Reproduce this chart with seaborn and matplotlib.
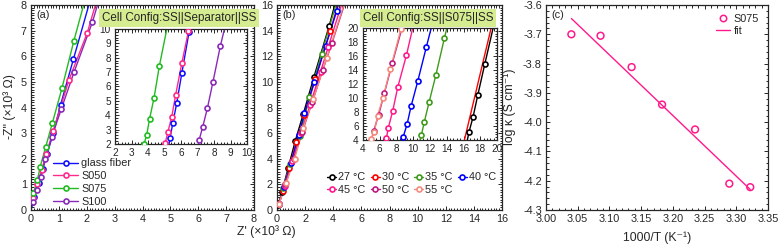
import numpy as np
import matplotlib
matplotlib.use("Agg")
import matplotlib.pyplot as plt
from matplotlib.ticker import MultipleLocator, AutoMinorLocator
from matplotlib.lines import Line2D
import seaborn as sns
import pandas as pd

# ---- panel (a): SS||separator||SS, Z' / -Z'' in 10^3 ohm ----
sep_names = ["glass fiber", "S050", "S075", "S100"]
sep_colors = ["#1010ff", "#ff2a8a", "#22bb22", "#8a2ab8"]
a_x = [[0.12, 0.27, 0.42, 0.58, 0.80, 1.06, 1.52],
       [0.08, 0.22, 0.38, 0.55, 0.80, 1.36, 2.02],
       [0.08, 0.23, 0.33, 0.53, 0.77, 1.11, 1.54],
       [0.06, 0.20, 0.35, 0.52, 0.75, 1.09, 1.55, 2.20]]
a_y = [[0.50, 1.05, 1.60, 2.20, 3.00, 4.10, 5.88],
       [0.45, 1.00, 1.55, 2.20, 3.10, 5.07, 6.92],
       [0.65, 1.17, 1.69, 2.47, 3.41, 4.75, 6.61],
       [0.30, 0.80, 1.30, 2.00, 2.86, 3.95, 5.40, 7.32]]
# inset (a)
ai_x = [[5.34, 5.50, 5.74, 6.05, 6.49],
        [5.04, 5.20, 5.44, 5.68, 6.05, 6.45],
        [3.76, 3.92, 4.10, 4.37, 4.69],
        [7.10, 7.32, 7.60, 7.93, 8.38]]
ai_y = [[2.44, 3.44, 4.84, 6.93, 9.80],
        [2.05, 2.80, 3.90, 5.44, 7.63, 9.84],
        [2.00, 2.63, 3.77, 5.23, 7.44],
        [2.28, 3.21, 4.49, 6.28, 8.79]]

# ---- panel (b): SS||S075||SS at different temperatures ----
temp_names = ["27 °C", "30 °C", "35 °C", "40 °C", "45 °C", "50 °C", "55 °C"]
temp_colors = ["#000000", "#ff0000", "#3f9a1c", "#0000ff", "#ff1a8c", "#c01a80", "#f58a7c"]
b_x = [[0.10, 0.35, 0.80, 1.30, 1.87, 2.63, 3.72],
       [0.12, 0.40, 0.85, 1.38, 1.95, 2.72, 3.80],
       [0.12, 0.45, 0.95, 1.64, 2.30, 3.17],
       [0.15, 0.50, 1.00, 1.55, 1.95, 2.65, 3.45, 4.24],
       [0.15, 0.55, 1.10, 1.70, 2.35, 3.10, 3.65],
       [0.15, 0.60, 1.20, 1.80, 2.50, 3.25, 3.90],
       [0.15, 0.65, 1.25, 1.87, 2.58, 3.53]]
b_y = [[0.40, 1.40, 3.30, 5.40, 7.50, 10.40, 14.40],
       [0.45, 1.50, 3.30, 5.30, 7.40, 10.20, 14.00],
       [0.50, 1.70, 3.60, 5.80, 8.80, 12.20],
       [0.50, 1.80, 3.70, 5.85, 7.54, 10.00, 12.80, 15.50],
       [0.50, 1.90, 3.80, 6.00, 8.20, 10.80, 12.75],
       [0.50, 2.00, 4.00, 6.10, 8.40, 10.90, 13.00],
       [0.50, 2.10, 4.00, 6.43, 8.66, 11.84]]
# inset (b)
bi_x = [[16.67, 17.15, 17.71, 18.54],
        [16.11, 19.30],
        [10.97, 11.33, 11.89, 12.69, 13.72],
        [8.78, 9.26, 9.74, 10.53, 11.57],
        [6.79, 7.03, 7.55, 8.14, 9.18],
        [5.27, 5.87, 6.55, 7.50],
        [5.00, 5.35, 5.75, 6.39, 7.27, 8.54]]
bi_y = [[5.19, 7.34, 10.45, 14.84],
        [4.00, 20.00],
        [4.72, 6.63, 9.40, 13.22, 18.56],
        [4.38, 6.24, 8.82, 12.36, 17.32],
        [4.24, 5.77, 8.15, 11.50, 16.08],
        [5.29, 7.58, 10.69, 14.98],
        [4.20, 5.19, 7.49, 10.06, 14.17, 19.90]]
bi_marks = [True, False, True, True, True, True, True]

# ---- panel (c): Arrhenius ----
inv_t = [3.040, 3.086, 3.135, 3.183, 3.235, 3.289, 3.322]
log_k = [-3.700, -3.705, -3.812, -3.940, -4.025, -4.210, -4.222]
c_color = "#ff1a8c"

sns.set_style("ticks")
plt.rcParams['font.family'] = ['Liberation Sans', 'DejaVu Sans']
plt.rcParams['axes.unicode_minus'] = False
plt.rcParams['axes.linewidth'] = 0.9
fs = 7.8


def style_axes(ax, xmaj, ymaj, xmin_n, ymin_n, lsize=fs):
    ax.xaxis.set_major_locator(MultipleLocator(xmaj))
    ax.yaxis.set_major_locator(MultipleLocator(ymaj))
    ax.xaxis.set_minor_locator(AutoMinorLocator(xmin_n))
    ax.yaxis.set_minor_locator(AutoMinorLocator(ymin_n))
    ax.tick_params(which='both', direction='in', top=True, right=True,
                   labelsize=lsize, pad=3, width=0.7)
    ax.tick_params(which='major', length=3)
    ax.tick_params(which='minor', length=1.8)
    ax.set_xlabel("")
    ax.set_ylabel("")


def trace(ax, xs, ys, color, ybot, ytop, marks=True):
    k, b = np.polyfit(ys, xs, 1)
    lx = [k * ybot + b] + list(xs) + [k * ytop + b]
    ly = [ybot] + list(ys) + [ytop]
    df = pd.DataFrame({"x": lx, "y": ly})
    sns.lineplot(data=df, x="x", y="y", ax=ax, color=color, lw=1,
                 sort=False, estimator=None, zorder=2)
    if marks:
        sns.scatterplot(x=xs, y=ys, ax=ax, color="white", edgecolor=color,
                        s=13, linewidth=1.2, zorder=3)


fig = plt.figure(figsize=(7.79, 2.47), dpi=100)
W, H = 779, 247


def box(x0, y0, x1, y1):
    return [x0 / W, 1 - y1 / H, (x1 - x0) / W, (y1 - y0) / H]


ax_a = fig.add_axes(box(31, 5, 254, 210))
ax_b = fig.add_axes(box(277, 5, 502, 210))
ax_c = fig.add_axes(box(546, 5, 768, 210))
in_a = fig.add_axes(box(115, 29, 247, 144))
in_b = fig.add_axes(box(363, 28, 497, 140))

# panel a
for xs, ys, col in zip(a_x, a_y, sep_colors):
    trace(ax_a, xs, ys, col, 0, 9)
ax_a.set_xlim(0, 8)
ax_a.set_ylim(0, 8)
style_axes(ax_a, 1, 1, 10, 10)
for xs, ys, col in zip(ai_x, ai_y, sep_colors):
    trace(in_a, xs, ys, col, 1.5, 10.5)
in_a.set_xlim(2, 10)
in_a.set_ylim(2, 10)
style_axes(in_a, 1, 1, 5, 5, lsize=7.2)
ax_a.text(0.025, 0.975, "(a)", transform=ax_a.transAxes, fontsize=fs,
          va="top", ha="left")
ax_a.legend(handles=[Line2D([], [], color=c, lw=1, marker='o', ms=3.6,
                            mfc='white', mew=1.2) for c in sep_colors],
            labels=sep_names, loc="lower left", bbox_to_anchor=(0.065, -0.02),
            frameon=False, fontsize=fs, handlelength=2.3, handletextpad=0.3,
            labelspacing=0.25, borderpad=0.2)

# panel b
for xs, ys, col in zip(b_x, b_y, temp_colors):
    trace(ax_b, xs, ys, col, 0, 17)
ax_b.set_xlim(0, 16)
ax_b.set_ylim(0, 16)
style_axes(ax_b, 2, 2, 10, 10)
for xs, ys, col, m in zip(bi_x, bi_y, temp_colors, bi_marks):
    trace(in_b, xs, ys, col, 3, 21, marks=m)
in_b.set_xlim(4, 20)
in_b.set_ylim(4, 20)
style_axes(in_b, 2, 2, 5, 5, lsize=7.2)
ax_b.text(0.025, 0.975, "(b)", transform=ax_b.transAxes, fontsize=fs,
          va="top", ha="left")
# legend is filled column by column, so order it to read row by row
order = [0, 4, 1, 5, 2, 6, 3]
ax_b.legend(handles=[Line2D([], [], color=temp_colors[i], lw=1, marker='o', ms=3.6,
                            mfc='white', mew=1.2) for i in order],
            labels=[temp_names[i] for i in order], loc="upper left",
            bbox_to_anchor=(0.19, 0.22), ncol=4, frameon=False, fontsize=fs,
            handlelength=0.8, handletextpad=0.2, columnspacing=0.5,
            labelspacing=0.25, borderpad=0.2)

# panel c
k, b = np.polyfit(inv_t, log_k, 1)
fit_df = pd.DataFrame({"x": [inv_t[0], inv_t[-1]],
                       "y": [k * inv_t[0] + b, k * inv_t[-1] + b]})
sns.scatterplot(x=inv_t, y=log_k, ax=ax_c, color="none", edgecolor=c_color,
                s=24, linewidth=1.1, zorder=3)
sns.lineplot(data=fit_df, x="x", y="y", ax=ax_c, color=c_color, lw=1)
ax_c.set_xlim(3.00, 3.35)
ax_c.set_ylim(-4.3, -3.6)
style_axes(ax_c, 0.05, 0.1, 5, 5)
ax_c.text(0.025, 0.975, "(c)", transform=ax_c.transAxes, fontsize=fs,
          va="top", ha="left")
ax_c.legend(handles=[Line2D([], [], ls='none', marker='o', ms=4.6, mfc='none',
                            mec=c_color, mew=1.1),
                     Line2D([], [], color=c_color, lw=1)],
            labels=["S075", "fit"], loc="upper right", bbox_to_anchor=(1.0, 1.0),
            frameon=False, fontsize=fs, handlelength=1.3, handletextpad=0.4,
            labelspacing=0.2, borderpad=0.3)

# config labels
for cx, txt, f in [(179, "Cell Config:SS||Separator||SS", 8.4),
                   (428, "Cell Config:SS||S075||SS", 8.4)]:
    fig.text(cx / W, 1 - 18 / H, txt, fontsize=f, ha="center", va="center",
             bbox=dict(boxstyle="square,pad=0.25", fc="#d6ec90", ec="none"),
             zorder=10)

# axis titles
fig.text(266 / W, 1 - 232 / H, "Z' (×10³ Ω)", fontsize=8.8, ha="center", va="center")
fig.text(10 / W, 1 - 107 / H, "-Z'' (×10³ Ω)", fontsize=8.8, ha="center",
         va="center", rotation=90)
fig.text(657 / W, 1 - 238 / H, "1000/T (K⁻¹)", fontsize=8.8, ha="center", va="center")
fig.text(510 / W, 1 - 107 / H, "log κ (S cm⁻¹)", fontsize=8.8, ha="center",
         va="center", rotation=90)

fig.savefig("out.png", dpi=100)
